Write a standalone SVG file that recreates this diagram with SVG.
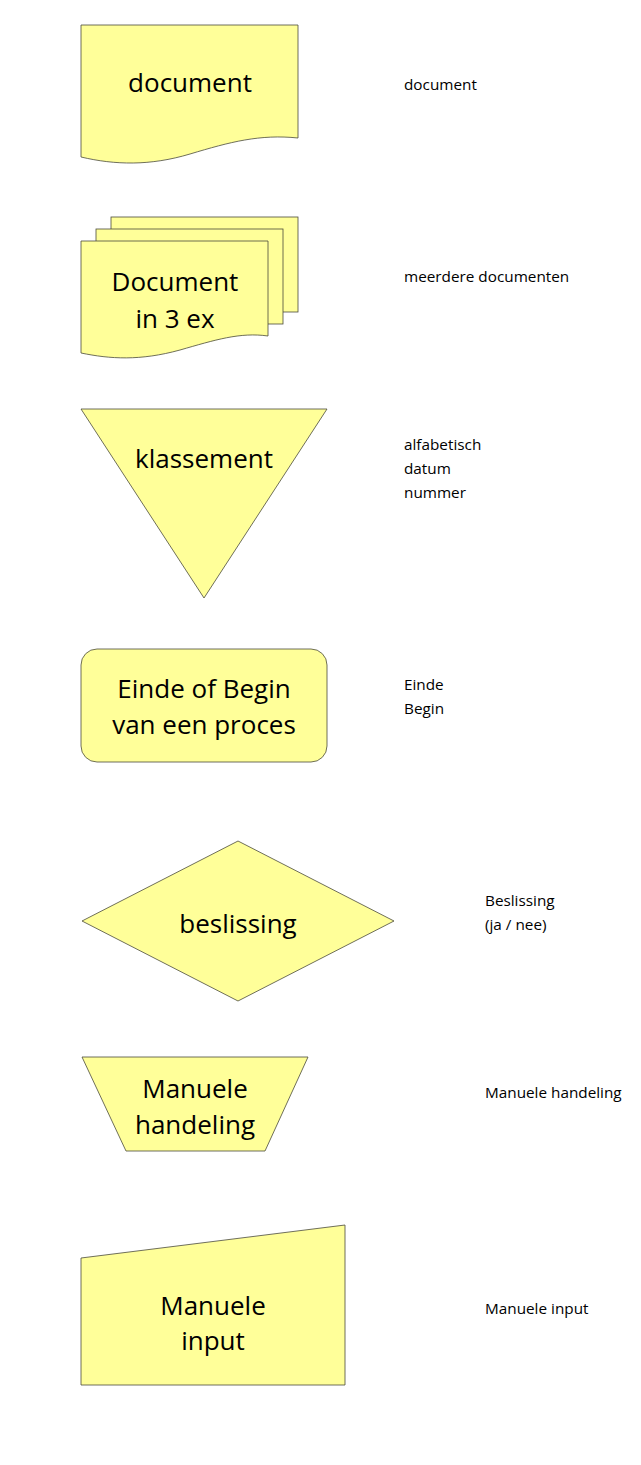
<svg xmlns="http://www.w3.org/2000/svg" width="641" height="1465" viewBox="0 0 641 1465">
<style>
.s{fill:#ffff99;stroke:#4a4a3a;stroke-width:0.8}
.t{font-family:"Open Sans","Liberation Sans",sans-serif;font-size:26px;fill:#000;text-anchor:middle}
.l{font-family:"Open Sans","Liberation Sans",sans-serif;font-size:15.3px;fill:#000}
</style>
<rect width="641" height="1465" fill="#fff"/>
<g id="document">
<path class="s" d="M81,25 H298 V138 C260,134 230,142 190,154 C150,166 115,165 81,157 Z"/>
<text class="t" x="190" y="92">document</text>
</g>
<g id="multidocument">
<rect class="s" x="111" y="217" width="187" height="95"/>
<rect class="s" x="96" y="229" width="187" height="95"/>
<path class="s" d="M81,241 H268 V336 C240,332 215,340 180,350 C140,361 110,359 81,353 Z"/>
<text class="t" x="175" y="291">Document</text>
<text class="t" x="175" y="328">in 3 ex</text>
</g>
<g id="klassement">
<polygon class="s" points="81,409 327,409 204,598"/>
<text class="t" x="204" y="468">klassement</text>
</g>
<g id="terminator">
<rect class="s" x="81" y="649" width="246" height="113" rx="16" ry="16"/>
<text class="t" x="204" y="698">Einde of Begin</text>
<text class="t" x="204" y="734">van een proces</text>
</g>
<g id="beslissing">
<polygon class="s" points="82,921 238,841 394,921 238,1001"/>
<text class="t" x="238" y="933">beslissing</text>
</g>
<g id="manuele-handeling">
<polygon class="s" points="82,1057 308,1057 265,1151 126,1151"/>
<text class="t" x="195" y="1098">Manuele</text>
<text class="t" x="195" y="1134">handeling</text>
</g>
<g id="manuele-input">
<polygon class="s" points="81,1258 345,1225 345,1385 81,1385"/>
<text class="t" x="213" y="1315">Manuele</text>
<text class="t" x="213" y="1350">input</text>
</g>
<g id="labels">
<text class="l" x="404" y="90">document</text>
<text class="l" x="404" y="282">meerdere documenten</text>
<text class="l" x="404" y="450">alfabetisch</text>
<text class="l" x="404" y="474">datum</text>
<text class="l" x="404" y="498">nummer</text>
<text class="l" x="404" y="690">Einde</text>
<text class="l" x="404" y="714">Begin</text>
<text class="l" x="485" y="906">Beslissing</text>
<text class="l" x="485" y="930">(ja / nee)</text>
<text class="l" x="485" y="1098">Manuele handeling</text>
<text class="l" x="485" y="1314">Manuele input</text>
</g>
<g id="connectors"></g>
</svg>
